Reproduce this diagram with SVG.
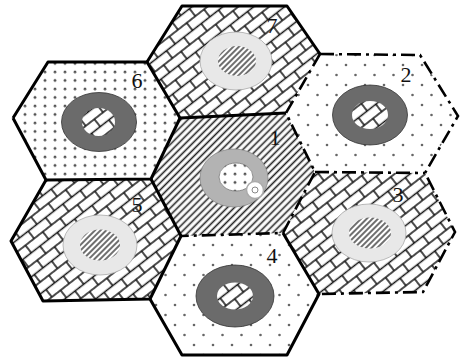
<svg xmlns="http://www.w3.org/2000/svg" width="461" height="361" viewBox="0 0 461 361">
<defs>
<pattern id="dotsDense" patternUnits="userSpaceOnUse" width="10" height="8.5"><rect width="10" height="8.5" fill="#fff"/><circle cx="5" cy="4" r="1.4" fill="#555"/></pattern>
<pattern id="dotsSparse" patternUnits="userSpaceOnUse" width="19" height="20"><rect width="19" height="20" fill="#fff"/><circle cx="4" cy="5" r="1.3" fill="#666"/><circle cx="13.5" cy="15" r="1.3" fill="#666"/></pattern>
<pattern id="hatch" patternUnits="userSpaceOnUse" width="5" height="10" patternTransform="rotate(45)"><rect width="5" height="10" fill="#fff"/><line x1="2.5" y1="0" x2="2.5" y2="10" stroke="#222" stroke-width="1.6"/></pattern>
<pattern id="hatchFine" patternUnits="userSpaceOnUse" width="4" height="10" patternTransform="rotate(45)"><rect width="4" height="10" fill="#fff"/><line x1="2" y1="0" x2="2" y2="10" stroke="#222" stroke-width="1.3"/></pattern>
<pattern id="brick" patternUnits="userSpaceOnUse" width="22" height="19" patternTransform="rotate(-38)"><rect width="22" height="19" fill="#fff"/><path d="M0 0H22M0 9.5H22M0 19H22M1 0V9.5M12 9.5V19" stroke="#111" stroke-width="1.5" fill="none"/></pattern>
</defs>
<style>
.solid{fill:none;stroke:#000;stroke-width:3;stroke-linejoin:round}
.dash{fill:none;stroke:#000;stroke-width:2.6;stroke-dasharray:14 5 3 5}
.darkring{fill:#6b6b6b;stroke:#333;stroke-width:0.8}
.lightring{fill:#e8e8e8;stroke:#aaa;stroke-width:0.8}
.lbl{font-family:"Liberation Serif","Times New Roman",serif;font-size:22px;fill:#111;text-anchor:middle}
</style>
<g id="hex7">
<polygon points="182,6 287,6 320,54 286,113 180,118 147,62" fill="url(#brick)"/>
<ellipse class="lightring" cx="236" cy="61" rx="36" ry="29"/>
<ellipse cx="237" cy="61" rx="19" ry="15" fill="url(#hatchFine)"/>
<text class="lbl" x="272" y="33">7</text>
</g>
<g id="hex6">
<polygon points="48,62 147,62 180,118 151,179 46,180 13,118" fill="url(#dotsDense)"/>
<ellipse class="darkring" cx="99" cy="122" rx="37.5" ry="29.5"/>
<ellipse cx="98.5" cy="122" rx="16.5" ry="14" fill="url(#brick)"/>
<text class="lbl" x="137" y="88">6</text>
</g>
<g id="hex5">
<polygon points="46,180 151,179 181,236 150,299 43,301 11,241" fill="url(#brick)"/>
<ellipse class="lightring" cx="100" cy="245" rx="37" ry="30"/>
<ellipse cx="100" cy="245" rx="20" ry="15.5" fill="url(#hatchFine)"/>
<text class="lbl" x="137" y="212">5</text>
</g>
<g id="hex4">
<polygon points="181,236 283,233 319,294 287,355 182,355 150,299" fill="url(#dotsSparse)"/>
<ellipse class="darkring" cx="235" cy="296" rx="39" ry="31"/>
<ellipse cx="235" cy="296" rx="18" ry="13.5" fill="url(#brick)"/>
<text class="lbl" x="272" y="263">4</text>
</g>
<g id="hex1">
<polygon points="180,118 286,113 315,172 283,233 181,236 151,179" fill="url(#hatch)"/>
<ellipse cx="234" cy="178" rx="34" ry="29" fill="#b3b3b3" stroke="#888" stroke-width="0.8"/>
<ellipse cx="236" cy="177" rx="17" ry="14" fill="url(#dotsDense)" stroke="#777" stroke-width="0.8"/>
<circle cx="255" cy="190" r="8.5" fill="#fff" stroke="#aaa" stroke-width="1.5"/>
<circle cx="255" cy="190" r="3" fill="#fff" stroke="#888" stroke-width="1"/>
<text class="lbl" x="275" y="145">1</text>
</g>
<g id="hex2">
<polygon points="320,54 420,55 458,116 425,173 315,172 286,113" fill="url(#dotsSparse)"/>
<ellipse class="darkring" cx="370" cy="115" rx="37.5" ry="30"/>
<ellipse cx="370" cy="115" rx="18" ry="14" fill="url(#brick)"/>
<text class="lbl" x="406" y="82">2</text>
</g>
<g id="hex3">
<polygon points="315,172 425,173 455,232 423,292 319,294 283,233" fill="url(#brick)"/>
<ellipse class="lightring" cx="369" cy="233" rx="37" ry="29"/>
<ellipse cx="370" cy="233" rx="21" ry="15.5" fill="url(#hatchFine)"/>
<text class="lbl" x="398" y="202">3</text>
</g>
<g id="connectors">
<path class="solid" d="M147,62 L182,6 L287,6 L320,54"/>
<path class="solid" d="M13,118 L48,62 L147,62 L180,118 L286,113"/>
<path class="solid" d="M180,118 L151,179 L46,180 L13,118"/>
<path class="solid" d="M46,180 L11,241 L43,301 L150,299 L181,236 L151,179"/>
<path class="solid" d="M150,299 L182,355 L287,355 L319,294 L283,233"/>
<path class="dash" d="M320,54 L286,113 L315,172 L283,233 L181,236"/>
<path class="dash" d="M320,54 L420,55 L458,116 L425,173 L455,232 L423,292 L319,294"/>
<path class="dash" d="M315,172 L425,173"/>
</g>
</svg>
